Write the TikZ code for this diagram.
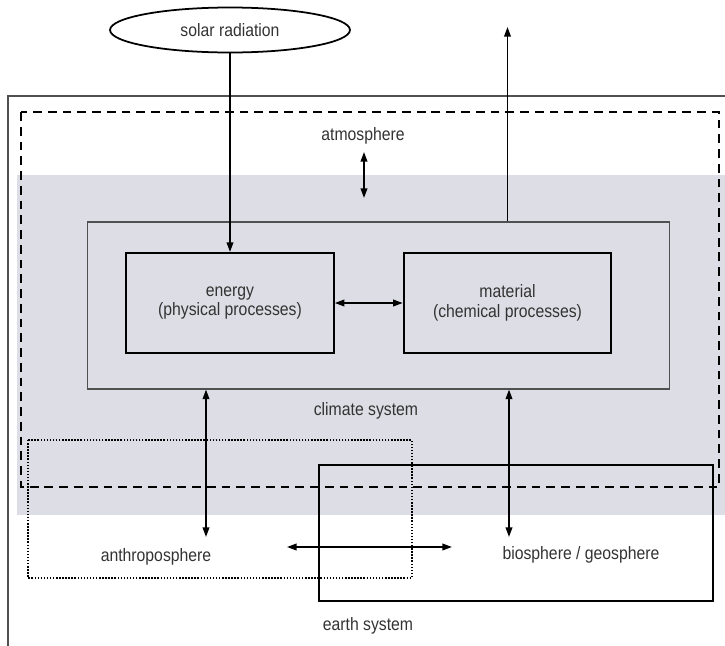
\documentclass[tikz,border=0pt]{standalone}
\usepackage{fontspec}
\setmainfont[FakeStretch=0.88]{Liberation Sans}
\usepackage{xcolor}
\usetikzlibrary{arrows.meta,shapes.geometric,positioning}
\definecolor{bandgrey}{RGB}{221,221,229}
\definecolor{framegrey}{RGB}{80,80,80}
\tikzset{
    oneway/.style={line width=0.95pt,-{Triangle[length=5.5pt,width=3.8pt]}},
    twoway/.style={line width=0.95pt,{Triangle[length=5.5pt,width=3.8pt]}-{Triangle[length=5.5pt,width=3.8pt]}},
    procbox/.style={draw,line width=1.2pt,align=center,minimum width=4.15cm,minimum height=2cm},
    dashbox/.style={line width=1.2pt,dash pattern=on 5pt off 3.4pt},
    dotbox/.style={line width=0.85pt,dash pattern=on 0.85pt off 0.9pt},
    regionbox/.style={line width=1.2pt},
}

\begin{document}
\begin{tikzpicture}[x=0.02cm,y=-0.02cm,font=\fontsize{10.2}{11}\selectfont,text=black!80]
			\useasboundingbox (0,0) rectangle (725,646);
			% shaded band and outer frames
			\fill[bandgrey] (17,175) rectangle (725,515);
			\draw[framegrey,line width=0.9pt] (8,646) -- (8,96) -- (725,96);
			\draw[dashbox] (21,112) rectangle (719,487);
			\draw[dotbox] (28,440) rectangle (412,578);
			\draw[regionbox] (319,465) rectangle (713,601);
			% nodes
			\node[ellipse,draw,line width=1pt,minimum width=4.8cm,minimum height=0.9cm] (solar) at (230,30) {solar radiation};
			\node[draw=framegrey,line width=0.6pt,minimum width=11.66cm,minimum height=3.34cm] (climate) at (378.5,305.5) {};
			\node[procbox] (energy) at (230,303) {energy\\(physical processes)};
			\node[procbox] (material) at (507.5,303) {material\\(chemical processes)};
			\node (atmo) at (363,136) {atmosphere};
			\node (climlabel) at (366,411) {climate system};
			\node (anthro) at (156,557) {anthroposphere};
			\node (bio) at (581,555) {biosphere / geosphere};
			\node (earth) at (368,626) {earth system};
			% free ends
			\coordinate (outtop) at (507.5,27);
			\coordinate (atmotop) at (364,152);
			\coordinate (atmobot) at (364,198);
			\coordinate (anthroend) at (206,537);
			\coordinate (bioend) at (509,537);
			\coordinate (lhs) at (287,547);
			\coordinate (rhs) at (452,547);
			% connectors
			\draw[oneway] (solar) -- (energy);
			\draw[twoway] (energy) -- (material);
			\draw[oneway] (climate.north -| material) -- (outtop);
			\draw[twoway] (atmotop) -- (atmobot);
			\draw[twoway] (climate.south -| anthroend) -- (anthroend);
			\draw[twoway] (climate.south -| bioend) -- (bioend);
			\draw[twoway] (lhs) -- (rhs);
		\end{tikzpicture}
\end{document}
